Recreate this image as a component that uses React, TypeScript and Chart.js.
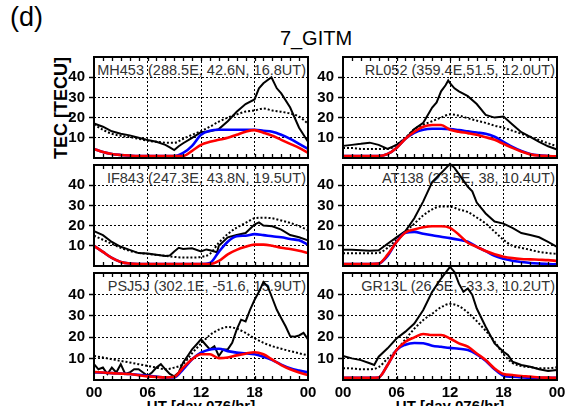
import React, { useEffect, useRef } from 'react';
import { Chart, registerables } from 'chart.js';

Chart.register(...registerables);

const FONT = "'Liberation Sans', Arial, Helvetica, sans-serif";

// Hourly grid for model curves and the dotted reference curves
const HOURS = [0, 1, 2, 3, 4, 5, 6, 7, 8, 9, 10, 11, 12, 13, 14, 15, 16, 17, 18, 19, 20, 21, 22, 23, 24];
const X_TICK_LABELS = ['00', '06', '12', '18', '00'];
const Y_TICK_VALUES = [10, 20, 30, 40];

// ---- Panel 1: MH453 ----
const MH453_OBS_HOURS = [0, 1, 2, 3, 4, 5, 6, 7, 8, 8.5, 9, 9.5, 10, 11, 12, 13, 14, 15, 16, 17, 18, 18.5, 19, 19.9, 20.5, 21, 22, 23, 24];
const MH453_OBS = [17.1, 15.5, 13.2, 12, 11.2, 10, 8.9, 8, 6.5, 5.3, 3.9, 5.8, 7.3, 10, 12.8, 13.2, 14.3, 18.2, 22.9, 26.7, 29, 34.5, 37, 40, 34.5, 32, 25, 15, 8];
const MH453_DOT = [16.6, 14, 12, 11, 10.4, 9.5, 8.6, 8, 7.6, 7.5, 9.5, 11.5, 13.3, 15.5, 18, 20, 21.5, 23, 23.5, 24.5, 23.5, 22.9, 22, 20.5, 17];
const MH453_BLUE = [4.5, 3, 2, 1.5, 1.2, 1, 1, 1, 1, 1, 2.5, 6, 11.5, 13.5, 14, 14, 14, 14, 14, 13.5, 13, 11.5, 9.5, 7, 4.5];
const MH453_RED = [4.5, 3, 2, 1.5, 1.2, 1, 1, 1, 1, 1, 1, 3.5, 6.5, 8, 9, 10, 11.5, 13, 13.8, 12.5, 11, 9, 7, 5, 2.6];

// ---- Panel 2: RL052 ----
const RL052_OBS_HOURS = [0, 1, 2, 3, 4, 5, 6, 7, 8, 9, 10, 10.5, 11, 11.5, 11.8, 12, 12.5, 13, 14, 15, 16, 17, 18, 19, 20, 21, 22, 23, 24];
const RL052_OBS = [6, 6.5, 7, 7.6, 6.5, 4.5, 6.5, 9.6, 14.3, 17.4, 25, 27.5, 33, 36, 38.4, 37, 34.5, 33, 30.6, 26.7, 21.3, 20, 20.5, 16.6, 12.8, 10.4, 8, 5.8, 4.2];
const RL052_DOT = [5, 5, 4.5, 4.5, 4.5, 4.5, 6.5, 10, 14.3, 16.5, 18.2, 20, 21.6, 21, 19.7, 18.5, 17.4, 16, 15, 13.5, 12, 10.5, 8.9, 7.3, 5.8];
const RL052_BLUE = [1, 1, 1, 1, 1, 2, 5, 9.5, 12.5, 14, 14.5, 14.5, 14.3, 13.8, 13.2, 12.6, 12, 10.5, 8, 5.5, 3.5, 2, 1.3, 1, 0.8];
const RL052_RED = [1, 1, 1, 1, 1, 2, 5, 9.5, 13, 15.5, 16.3, 16.3, 14, 13, 12.3, 11.5, 10.3, 9, 7, 5, 3.2, 1.8, 1.2, 1, 0.8];

// ---- Panel 3: IF843 ----
const IF843_OBS_HOURS = [0, 1, 2, 3, 4, 5, 6, 7, 8, 8.5, 9, 9.5, 10, 11, 12, 12.6, 13, 13.8, 14, 15, 16, 17, 18, 18.5, 19, 20, 21, 22, 23, 24];
const IF843_OBS = [17.3, 15.3, 11.9, 9.5, 8, 6.4, 6.2, 5.6, 5, 5.2, 7.2, 9, 8.4, 8.8, 7.2, 8.2, 7.8, 6.8, 10, 14.2, 15.3, 16.3, 20.5, 21.6, 20, 19.7, 18, 15.3, 14.2, 12.7];
const IF843_DOT = [15, 13, 11, 9, 7.5, 6.5, 6, 5.5, 5, 4.5, 4.2, 4.2, 4.5, 6, 11.5, 15.8, 19, 21.3, 23.6, 23.9, 23.6, 22.5, 21.3, 19.7, 17.8];
const IF843_BLUE = [10, 7, 4, 2, 1.2, 1, 1, 1, 1, 1, 1, 1, 1, 1.5, 7, 12, 14.7, 15, 15.8, 15.3, 14.7, 14.2, 13.4, 12.7, 10.6];
const IF843_RED = [10, 7, 4, 2, 1.2, 1, 1, 1, 1, 1, 1, 1, 1, 1, 2.5, 5.8, 8, 9.5, 10.6, 10.6, 10, 9, 8.4, 7.5, 6.4];

// ---- Panel 4: AT138 ----
const AT138_OBS_HOURS = [0, 1, 2, 3, 4, 5, 6, 7, 8, 9, 10, 11, 12, 12.5, 13, 14, 14.5, 15, 16, 17, 18, 19, 20, 21, 22, 23, 24];
const AT138_OBS = [8, 8, 7.8, 7.5, 7.8, 11, 14.2, 17.3, 23.6, 32, 41.6, 46, 50.6, 48.6, 45.5, 39.2, 37, 31.4, 26, 22, 21, 18.9, 16.3, 15.3, 14.2, 11.9, 9.5];
const AT138_DOT = [6.3, 6.3, 6.3, 6.3, 6.5, 9, 13, 17, 21, 25, 28, 29.5, 29.4, 28, 26.7, 24, 21, 17, 13, 10, 9, 8, 7, 6.4, 6];
const AT138_BLUE = [1, 1, 1, 1, 1.2, 5, 12, 16.5, 16.9, 16, 15.2, 14.5, 13.8, 13, 12, 9.5, 7.4, 5, 3.6, 2.6, 2, 1.5, 1.2, 1, 0.8];
const AT138_RED = [1, 1, 1, 1, 1.2, 5.6, 11.9, 16.6, 18.1, 19.2, 19.7, 19.7, 18.9, 15.5, 11.5, 9.5, 7.4, 5.8, 4.6, 3.9, 3.5, 3.3, 3.1, 2.9, 2.5];

// ---- Panel 5: PSJ5J ----
const PSJ5J_OBS_HOURS = [0, 0.5, 1, 1.5, 2, 2.5, 3, 3.5, 4, 4.5, 5, 5.5, 6, 6.5, 7, 7.5, 8, 8.5, 9, 9.5, 10, 10.5, 11, 11.5, 12, 12.5, 13, 13.5, 14, 14.5, 15, 15.5, 16, 16.5, 17, 17.5, 18, 18.5, 19, 19.5, 20, 20.5, 21, 21.5, 22, 22.5, 23, 23.5, 24];
const PSJ5J_OBS = [7.4, 5, 5.8, 2.8, 5.8, 3.5, 7.4, 2.8, 3.5, 5, 5, 3.5, 2, 3.5, 5.8, 7.4, 5, 2.8, 1.7, 3.5, 8.2, 11.2, 14.3, 16.6, 19, 16.6, 14.3, 15.8, 11.2, 14.3, 14.3, 17.4, 23.5, 28.2, 27.4, 32.8, 37.4, 41.2, 45.8, 43.5, 38.2, 32.8, 28.9, 25, 20.5, 20.2, 20.8, 22, 19];
const PSJ5J_DOT = [11.2, 10.5, 9.7, 8.9, 8.2, 7.4, 6.6, 5.8, 5, 5.8, 7.5, 12.5, 17, 21, 23.5, 24.8, 24, 22, 19.5, 17.4, 15.8, 14.6, 13.5, 12.5, 11.5];
const PSJ5J_BLUE = [3.5, 3.4, 3.2, 3, 2.8, 2.4, 2, 1.6, 1.2, 1.2, 5, 9.7, 12.8, 14.3, 14.6, 13.5, 12.8, 12.5, 12, 10.9, 9.3, 7.2, 5.5, 4.4, 3.5];
const PSJ5J_RED = [3.8, 3.5, 3.2, 3, 2.8, 2.2, 1.7, 1.4, 1.2, 1.5, 5.8, 9.7, 12, 12, 10.2, 10.5, 11.5, 12.3, 13, 12, 9.5, 7, 5, 3.5, 2.3];

// ---- Panel 6: GR13L ----
const GR13L_OBS_HOURS = [0, 1, 2, 3, 3.5, 4, 5, 6, 7, 8, 9, 10, 11, 12, 12.5, 13, 13.5, 14, 14.5, 15, 16, 17, 18, 18.5, 19, 20, 21, 22, 23, 24];
const GR13L_OBS = [11.2, 10.1, 9.3, 7.8, 7, 10.9, 14.8, 19.4, 22.6, 26.4, 32.7, 41.2, 47.4, 52.9, 50.5, 45, 41.2, 42.8, 39.7, 33.4, 24.9, 17.1, 13.2, 11.7, 8.6, 7, 6.2, 5, 4.2, 4.7];
const GR13L_DOT = [5.5, 5.4, 5, 5, 6, 10, 14, 19, 24, 28, 31, 34, 35.6, 34.5, 31.5, 27.5, 23, 18, 12, 8, 6.5, 6, 5.5, 5.5, 6];
const GR13L_BLUE = [1, 1, 1, 1, 1.2, 7, 14, 16.5, 17.3, 17.2, 16, 15.5, 15, 14.6, 14, 12, 9, 5, 2, 1.5, 1.2, 1, 1, 1, 1];
const GR13L_RED = [1, 1, 1, 1, 1.2, 7, 14, 17.9, 19.9, 21.5, 21, 21, 19.4, 17.1, 15.6, 12.4, 9.3, 5.4, 2.8, 2.3, 1.9, 1.6, 1.2, 1.1, 1];

const STATION_LABELS = [
  'MH453 (288.5E, 42.6N, 16.8UT)',
  'RL052 (359.4E,51.5, 12.0UT)',
  'IF843 (247.3E, 43.8N, 19.5UT)',
  'AT138 (23.5E, 38, 10.4UT)',
  'PSJ5J (302.1E, -51.6, 15.9UT)',
  'GR13L (26.5E, -33.3, 10.2UT)',
];

type PanelData = {
  obsHours: number[];
  obs: number[];
  dot: number[];
  blue: number[];
  red: number[];
};

const PANEL_DATA: PanelData[] = [
  { obsHours: MH453_OBS_HOURS, obs: MH453_OBS, dot: MH453_DOT, blue: MH453_BLUE, red: MH453_RED },
  { obsHours: RL052_OBS_HOURS, obs: RL052_OBS, dot: RL052_DOT, blue: RL052_BLUE, red: RL052_RED },
  { obsHours: IF843_OBS_HOURS, obs: IF843_OBS, dot: IF843_DOT, blue: IF843_BLUE, red: IF843_RED },
  { obsHours: AT138_OBS_HOURS, obs: AT138_OBS, dot: AT138_DOT, blue: AT138_BLUE, red: AT138_RED },
  { obsHours: PSJ5J_OBS_HOURS, obs: PSJ5J_OBS, dot: PSJ5J_DOT, blue: PSJ5J_BLUE, red: PSJ5J_RED },
  { obsHours: GR13L_OBS_HOURS, obs: GR13L_OBS, dot: GR13L_DOT, blue: GR13L_BLUE, red: GR13L_RED },
];

// Layout
const COL_LEFT = [94, 343];
const PANEL_W = 214;
const ROW_TOP = [57, 165, 273];
const ROW_H = [108, 108, 107];
const PAD_L = 40;
const PAD_T = 14;
const PAD_R = 14;

const toXY = (xs: number[], ys: number[]) => xs.map((x, i) => ({ x, y: ys[i] }));

const framePlugin = {
  id: 'panelFrame',
  afterDraw(chart: any) {
    const { ctx, chartArea, scales } = chart;
    const { left, top, right, bottom } = chartArea;
    const x = scales.x;
    ctx.save();
    ctx.strokeStyle = '#000';
    ctx.lineWidth = 1.3;
    for (let h = 1; h < 24; h++) {
      const px = Math.round(x.getPixelForValue(h)) + 0.5;
      const len = 4;
      ctx.beginPath();
      ctx.moveTo(px, top);
      ctx.lineTo(px, top + len);
      ctx.moveTo(px, bottom);
      ctx.lineTo(px, bottom - len);
      ctx.stroke();
    }
    ctx.lineWidth = 2;
    ctx.strokeRect(left, top, right - left, bottom - top);
    ctx.restore();
  },
};

function Panel({ index }: { index: number }) {
  const ref = useRef<HTMLCanvasElement | null>(null);
  const col = index % 2;
  const row = Math.floor(index / 2);
  const isBottom = row === 2;
  const xh = isBottom ? 26 : 6;
  const cw = PAD_L + PANEL_W + PAD_R;
  const ch = PAD_T + ROW_H[row] + xh;

  useEffect(() => {
    if (!ref.current) return;
    const d = PANEL_DATA[index];
    const hideEdge = (c: any) => {
      const v = c.tick ? c.tick.value : null;
      return v === 0 || v === 50 ? 'rgba(0,0,0,0)' : '#000';
    };
    const chart = new Chart(ref.current, {
      type: 'line',
      data: {
        datasets: [
          {
            label: 'red',
            data: toXY(HOURS, d.red),
            borderColor: '#ff0000',
            borderWidth: 2.6,
            pointRadius: 0,
            tension: 0.4,
            cubicInterpolationMode: 'monotone',
            clip: false,
          },
          {
            label: 'blue',
            data: toXY(HOURS, d.blue),
            borderColor: '#0000ff',
            borderWidth: 2.6,
            pointRadius: 0,
            tension: 0.4,
            cubicInterpolationMode: 'monotone',
            clip: false,
          },
          {
            label: 'obs',
            data: toXY(d.obsHours, d.obs),
            borderColor: '#000000',
            borderWidth: 2,
            pointRadius: 0,
            tension: 0,
            clip: false,
          },
          {
            label: 'dot',
            data: toXY(HOURS, d.dot),
            borderColor: '#000000',
            borderWidth: 2,
            borderDash: [2, 2],
            pointRadius: 0,
            tension: 0.4,
            cubicInterpolationMode: 'monotone',
            clip: false,
          },
        ] as any,
      },
      options: {
        animation: false,
        responsive: false,
        maintainAspectRatio: false,
        events: [],
        layout: { padding: { top: PAD_T, right: PAD_R, left: 0, bottom: 0 } },
        plugins: {
          legend: { display: false },
          tooltip: { enabled: false },
          title: { display: false },
        },
        scales: {
          x: {
            type: 'linear',
            min: 0,
            max: 24,
            afterFit: (s: any) => {
              s.height = xh;
            },
            afterBuildTicks: (s: any) => {
              s.ticks = [0, 6, 12, 18, 24].map((v) => ({ value: v }));
            },
            grid: { color: '#000', lineWidth: 1, drawTicks: false },
            border: { display: false, dash: [2, 2] },
            ticks: {
              display: isBottom,
              padding: 4,
              maxRotation: 0,
              autoSkip: false,
              color: '#000',
              font: { family: FONT, size: 15, weight: 'bold' },
              callback: (v: any) => X_TICK_LABELS[[0, 6, 12, 18, 24].indexOf(Number(v))] ?? '',
            },
          },
          y: {
            type: 'linear',
            min: 0,
            max: 50,
            afterFit: (s: any) => {
              s.width = PAD_L;
            },
            afterBuildTicks: (s: any) => {
              s.ticks = [0, ...Y_TICK_VALUES, 50].map((v) => ({ value: v }));
            },
            grid: {
              color: hideEdge,
              tickColor: hideEdge,
              lineWidth: 1,
              drawTicks: true,
              tickLength: 5,
              tickWidth: 1.5,
            },
            border: { display: false, dash: [2, 2] },
            ticks: {
              padding: 4,
              color: '#000',
              font: { family: FONT, size: 15, weight: 'bold' },
              callback: (v: any) => (Y_TICK_VALUES.includes(Number(v)) ? String(v) : ''),
            },
          },
        },
      } as any,
      plugins: [framePlugin],
    });
    return () => chart.destroy();
  }, [index]);

  return (
    <canvas
      ref={ref}
      width={cw}
      height={ch}
      style={{
        position: 'absolute',
        left: COL_LEFT[col] - PAD_L,
        top: ROW_TOP[row] - PAD_T,
        width: cw,
        height: ch,
      }}
    />
  );
}

export default function App() {
  const labels = STATION_LABELS.map((t, i) => {
    const col = i % 2;
    const row = Math.floor(i / 2);
    return (
      <div
        key={'lab' + i}
        style={{
          position: 'absolute',
          left: COL_LEFT[col],
          width: PANEL_W - 2,
          top: ROW_TOP[row] + 5.7,
          textAlign: 'right',
          fontFamily: FONT,
          fontSize: 14.5,
          lineHeight: 1,
          color: '#333',
          whiteSpace: 'nowrap',
        }}
      >
        {t}
      </div>
    );
  });

  return (
    <div
      style={{
        position: 'absolute',
        left: 0,
        top: 0,
        width: 574,
        height: 406,
        overflow: 'hidden',
        background: '#fff',
        fontFamily: FONT,
      }}
    >
      <div style={{ position: 'absolute', left: 10, top: 4, fontSize: 27, lineHeight: 1, color: '#000' }}>(d)</div>
      <div
        style={{
          position: 'absolute',
          left: 316,
          top: 38,
          transform: 'translate(-50%, -50%)',
          fontSize: 20,
          lineHeight: 1,
          color: '#000',
          whiteSpace: 'nowrap',
        }}
      >
        7_GITM
      </div>
      <div
        style={{
          position: 'absolute',
          left: 61,
          top: 108,
          transform: 'translate(-50%, -50%) rotate(-90deg)',
          fontSize: 18,
          fontWeight: 'bold',
          lineHeight: 1,
          color: '#000',
          whiteSpace: 'nowrap',
        }}
      >
        TEC [TECU]
      </div>
      {labels}
      {[0, 1].map((c) => (
        <div
          key={'xt' + c}
          style={{
            position: 'absolute',
            left: COL_LEFT[c],
            width: PANEL_W,
            top: 398,
            textAlign: 'center',
            fontSize: 15,
            fontWeight: 'bold',
            lineHeight: 1,
            color: '#000',
            whiteSpace: 'nowrap',
          }}
        >
          UT [day 076/hr]
        </div>
      ))}
      {[0, 1, 2, 3, 4, 5].map((i) => (
        <Panel key={i} index={i} />
      ))}
    </div>
  );
}
